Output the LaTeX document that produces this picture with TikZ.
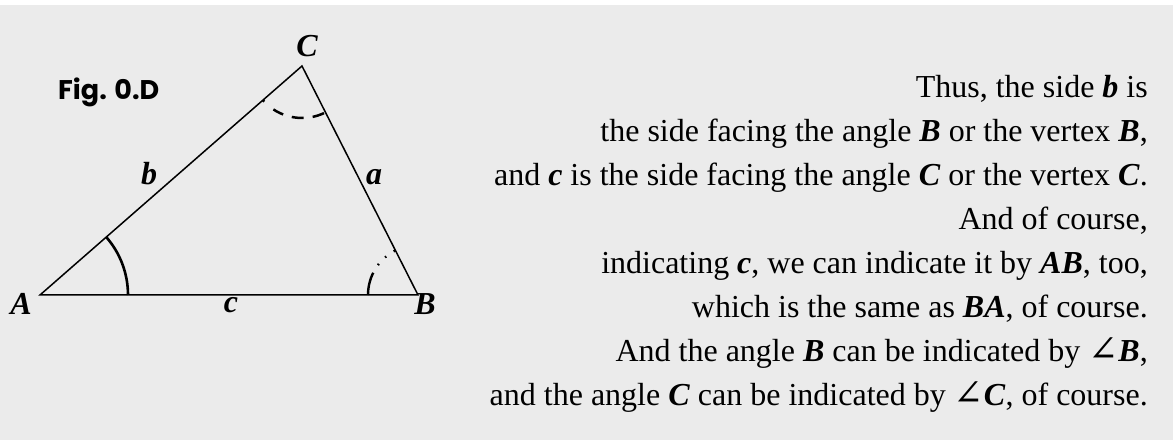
\documentclass[tikz,border=0pt]{standalone}
\usepackage{fontspec}
\setmainfont{Liberation Serif}
\newfontfamily\figfont{Poppins}
\newfontfamily\symfont{DejaVu Serif}
\usepackage{tikz}
\usepackage{xcolor}

\definecolor{panel}{HTML}{EBEBEB}
\newcommand{\bi}[1]{\textbf{\textit{#1}}}
\newcommand{\angsym}{{\symfont\fontsize{36}{36}\selectfont ∠}}

\begin{document}
\begin{tikzpicture}[
  x=1pt, y=1pt,
  side/.style={line width=1.5pt},
  vlbl/.style={anchor=base, font=\fontsize{32}{36}\selectfont\bfseries\itshape},
  txt/.style={anchor=base east, inner sep=0pt, font=\fontsize{32}{36}\selectfont}
]
  \useasboundingbox (0,0) rectangle (1173,443);
  \fill[panel] (0,3) rectangle (1173,438);

  %--- Triangle ---
  \coordinate (A) at (40,148);
  \coordinate (B) at (418,148);
  \coordinate (C) at (302,377);
  \draw[side, line join=miter] (A) -- (B) -- (C) -- cycle;

  %--- Angle marks ---
  \draw[line width=2.6pt] ([shift={(0:88pt)}]A) arc[start angle=0, end angle=41.2, radius=88pt];
  \draw[line width=2.5pt, dash pattern=on 2pt off 12pt on 11pt off 9pt on 12pt off 9pt on 12pt]
    ([shift={(221.2:52pt)}]C) arc[start angle=221.2, end angle=296.9, radius=52pt];
  \draw[line width=2.4pt, dash pattern=on 2pt off 9pt on 1.5pt off 9pt on 1.5pt off 9pt on 25pt]
    ([shift={(116.9:50pt)}]B) arc[start angle=116.9, end angle=180, radius=50pt];

  %--- Vertex and side labels ---
  \node[vlbl] (lA) at (21,128) {A};
  \node[vlbl] (lB) at (425,128) {B};
  \node[vlbl] (lC) at (307,386) {C};
  \node[vlbl] (la) at (374,258) {a};
  \node[vlbl] (lb) at (149,258) {b};
  \node[vlbl] (lc) at (231,130) {c};

  \node[anchor=base west, inner sep=0pt, font=\figfont\fontsize{27}{30}\selectfont\bfseries] (fig) at (58,343) {Fig. 0.D};

  %--- Text ---
  \node[txt] (t1) at (1148,345) {Thus, the side \bi{b} is};
  \node[txt] (t2) at (1148,301) {the side facing the angle \bi{B} or the vertex \bi{B},};
  \node[txt] (t3) at (1148,257) {and \bi{c} is the side facing the angle \bi{C} or the vertex \bi{C}.};
  \node[txt] (t4) at (1148,213) {And of course,};
  \node[txt] (t5) at (1148,169) {indicating \bi{c}, we can indicate it by \bi{AB}, too,};
  \node[txt] (t6) at (1148,125) {which is the same as \bi{BA}, of course.};
  \node[txt] (t7) at (1148,81) {And the angle \bi{B} can be indicated by \angsym\bi{B},};
  \node[txt] (t8) at (1148,37) {and the angle \bi{C} can be indicated by \angsym\bi{C}, of course.};
\end{tikzpicture}
\end{document}
